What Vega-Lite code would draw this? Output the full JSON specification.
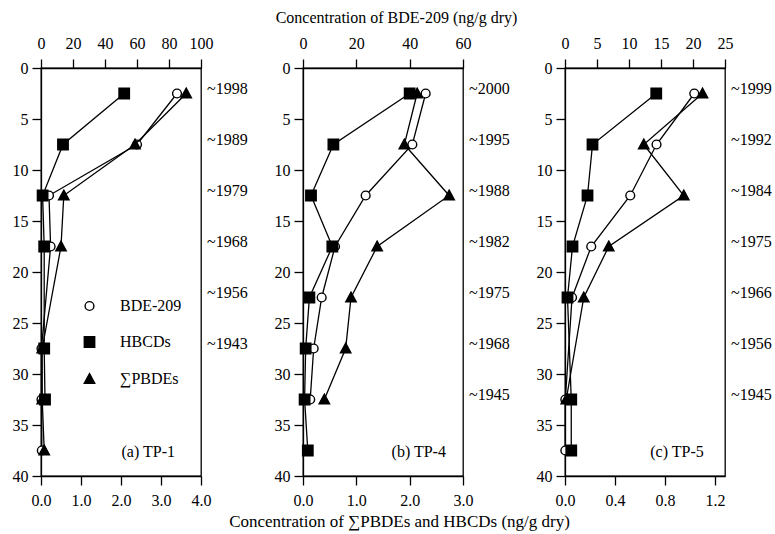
{
  "$schema": "https://vega.github.io/schema/vega-lite/v6.json",
  "background": "white",
  "padding": {"left": 11, "top": 8, "right": 5, "bottom": 5},
  "datasets": {
    "conc": [
      {"panel": "a", "series": "BDE-209", "depth": 2.5, "value": 85},
      {"panel": "a", "series": "BDE-209", "depth": 7.5, "value": 60},
      {"panel": "a", "series": "BDE-209", "depth": 12.5, "value": 5},
      {"panel": "a", "series": "BDE-209", "depth": 17.5, "value": 6},
      {"panel": "a", "series": "BDE-209", "depth": 27.5, "value": 0.3},
      {"panel": "a", "series": "BDE-209", "depth": 32.5, "value": 0.3},
      {"panel": "a", "series": "BDE-209", "depth": 37.5, "value": 0.5},
      {"panel": "a", "series": "HBCDs", "depth": 2.5, "value": 2.08},
      {"panel": "a", "series": "HBCDs", "depth": 7.5, "value": 0.55},
      {"panel": "a", "series": "HBCDs", "depth": 12.5, "value": 0.04},
      {"panel": "a", "series": "HBCDs", "depth": 17.5, "value": 0.08},
      {"panel": "a", "series": "HBCDs", "depth": 27.5, "value": 0.08},
      {"panel": "a", "series": "HBCDs", "depth": 32.5, "value": 0.1},
      {"panel": "a", "series": "∑PBDEs", "depth": 2.5, "value": 3.63},
      {"panel": "a", "series": "∑PBDEs", "depth": 7.5, "value": 2.35},
      {"panel": "a", "series": "∑PBDEs", "depth": 12.5, "value": 0.57},
      {"panel": "a", "series": "∑PBDEs", "depth": 17.5, "value": 0.5},
      {"panel": "a", "series": "∑PBDEs", "depth": 27.5, "value": 0.03},
      {"panel": "a", "series": "∑PBDEs", "depth": 32.5, "value": 0.03},
      {"panel": "a", "series": "∑PBDEs", "depth": 37.5, "value": 0.08},
      {"panel": "b", "series": "BDE-209", "depth": 2.5, "value": 46},
      {"panel": "b", "series": "BDE-209", "depth": 7.5, "value": 41},
      {"panel": "b", "series": "BDE-209", "depth": 12.5, "value": 23.5},
      {"panel": "b", "series": "BDE-209", "depth": 17.5, "value": 12},
      {"panel": "b", "series": "BDE-209", "depth": 22.5, "value": 7},
      {"panel": "b", "series": "BDE-209", "depth": 27.5, "value": 4},
      {"panel": "b", "series": "BDE-209", "depth": 32.5, "value": 2.7},
      {"panel": "b", "series": "HBCDs", "depth": 2.5, "value": 2.0},
      {"panel": "b", "series": "HBCDs", "depth": 7.5, "value": 0.57},
      {"panel": "b", "series": "HBCDs", "depth": 12.5, "value": 0.15},
      {"panel": "b", "series": "HBCDs", "depth": 17.5, "value": 0.55},
      {"panel": "b", "series": "HBCDs", "depth": 22.5, "value": 0.12},
      {"panel": "b", "series": "HBCDs", "depth": 27.5, "value": 0.05},
      {"panel": "b", "series": "HBCDs", "depth": 32.5, "value": 0.03},
      {"panel": "b", "series": "HBCDs", "depth": 37.5, "value": 0.09},
      {"panel": "b", "series": "∑PBDEs", "depth": 2.5, "value": 2.14},
      {"panel": "b", "series": "∑PBDEs", "depth": 7.5, "value": 1.9},
      {"panel": "b", "series": "∑PBDEs", "depth": 12.5, "value": 2.74},
      {"panel": "b", "series": "∑PBDEs", "depth": 17.5, "value": 1.39},
      {"panel": "b", "series": "∑PBDEs", "depth": 22.5, "value": 0.9},
      {"panel": "b", "series": "∑PBDEs", "depth": 27.5, "value": 0.8},
      {"panel": "b", "series": "∑PBDEs", "depth": 32.5, "value": 0.4},
      {"panel": "c", "series": "BDE-209", "depth": 2.5, "value": 20.2},
      {"panel": "c", "series": "BDE-209", "depth": 7.5, "value": 14.3},
      {"panel": "c", "series": "BDE-209", "depth": 12.5, "value": 10.2},
      {"panel": "c", "series": "BDE-209", "depth": 17.5, "value": 4.1},
      {"panel": "c", "series": "BDE-209", "depth": 22.5, "value": 1.1},
      {"panel": "c", "series": "BDE-209", "depth": 32.5, "value": 0.05},
      {"panel": "c", "series": "BDE-209", "depth": 37.5, "value": 0.05},
      {"panel": "c", "series": "HBCDs", "depth": 2.5, "value": 0.73},
      {"panel": "c", "series": "HBCDs", "depth": 7.5, "value": 0.22},
      {"panel": "c", "series": "HBCDs", "depth": 12.5, "value": 0.18},
      {"panel": "c", "series": "HBCDs", "depth": 17.5, "value": 0.06},
      {"panel": "c", "series": "HBCDs", "depth": 22.5, "value": 0.02},
      {"panel": "c", "series": "HBCDs", "depth": 32.5, "value": 0.05},
      {"panel": "c", "series": "HBCDs", "depth": 37.5, "value": 0.05},
      {"panel": "c", "series": "∑PBDEs", "depth": 2.5, "value": 1.1},
      {"panel": "c", "series": "∑PBDEs", "depth": 7.5, "value": 0.63},
      {"panel": "c", "series": "∑PBDEs", "depth": 12.5, "value": 0.95},
      {"panel": "c", "series": "∑PBDEs", "depth": 17.5, "value": 0.35},
      {"panel": "c", "series": "∑PBDEs", "depth": 22.5, "value": 0.15},
      {"panel": "c", "series": "∑PBDEs", "depth": 32.5, "value": 0.01}
    ],
    "years": [
      {"panel": "a", "depth": 2.5, "label": "~1998"},
      {"panel": "a", "depth": 7.5, "label": "~1989"},
      {"panel": "a", "depth": 12.5, "label": "~1979"},
      {"panel": "a", "depth": 17.5, "label": "~1968"},
      {"panel": "a", "depth": 22.5, "label": "~1956"},
      {"panel": "a", "depth": 27.5, "label": "~1943"},
      {"panel": "b", "depth": 2.5, "label": "~2000"},
      {"panel": "b", "depth": 7.5, "label": "~1995"},
      {"panel": "b", "depth": 12.5, "label": "~1988"},
      {"panel": "b", "depth": 17.5, "label": "~1982"},
      {"panel": "b", "depth": 22.5, "label": "~1975"},
      {"panel": "b", "depth": 27.5, "label": "~1968"},
      {"panel": "b", "depth": 32.5, "label": "~1945"},
      {"panel": "c", "depth": 2.5, "label": "~1999"},
      {"panel": "c", "depth": 7.5, "label": "~1992"},
      {"panel": "c", "depth": 12.5, "label": "~1984"},
      {"panel": "c", "depth": 17.5, "label": "~1975"},
      {"panel": "c", "depth": 22.5, "label": "~1966"},
      {"panel": "c", "depth": 27.5, "label": "~1956"},
      {"panel": "c", "depth": 32.5, "label": "~1945"}
    ],
    "tags": [
      {"panel": "a", "label": "(a) TP-1"},
      {"panel": "b", "label": "(b) TP-4"},
      {"panel": "c", "label": "(c) TP-5"}
    ]
  },
  "hconcat": [
    {
      "width": 160, "height": 408,
      "resolve": {"scale": {"x": "independent"}},
      "layer": [
        {
          "data": {"name": "conc"},
          "transform": [{"filter": "datum.panel === 'a' && datum.series === 'BDE-209'"}],
          "mark": {"type": "line", "color": "black", "strokeWidth": 1.3},
          "encoding": {
            "x": {"field": "value", "type": "quantitative", "scale": {"domain": [0, 100], "nice": false, "zero": false}, "axis": {"orient": "top", "values": [0, 20, 40, 60, 80, 100], "title": null, "labelPadding": 8, "encode": {"labels": {"font": {"value": "Liberation Serif"}, "fontSize": {"value": 16}, "fill": {"value": "black"}}}}},
            "y": {"field": "depth", "type": "quantitative", "scale": {"domain": [0, 40], "reverse": true, "nice": false, "zero": false}, "axis": {"orient": "left", "values": [0, 5, 10, 15, 20, 25, 30, 35, 40], "title": null, "labelPadding": 4, "encode": {"labels": {"font": {"value": "Liberation Serif"}, "fontSize": {"value": 16}, "fill": {"value": "black"}}}}},
            "order": {"field": "depth", "type": "quantitative"}
          }
        },
        {
          "data": {"name": "conc"},
          "transform": [{"filter": "datum.panel === 'a' && datum.series === 'BDE-209'"}],
          "mark": {"type": "point", "stroke": "black", "strokeWidth": 1.4, "opacity": 1, "size": 64},
          "encoding": {
            "x": {"field": "value", "type": "quantitative", "scale": {"domain": [0, 100], "nice": false, "zero": false}, "axis": null},
            "y": {"field": "depth", "type": "quantitative", "scale": {"domain": [0, 40], "reverse": true, "nice": false, "zero": false}},
            "shape": {"field": "series", "type": "nominal", "scale": {"domain": ["BDE-209", "HBCDs", "∑PBDEs"], "range": ["M-1.1,0A1.1,1.1,0,1,1,1.1,0A1.1,1.1,0,1,1,-1.1,0Z", "M-1.3,-1.3H1.3V1.3H-1.3Z", "M0,-1.35L1.3,1.05H-1.3Z"]},
              "legend": {"orient": "none", "legendX": 24.5, "legendY": 230, "title": null, "padding": 0, "symbolSize": 64, "symbolStrokeWidth": 1.4, "symbolOffset": 16, "labelOffset": 22.5, "rowPadding": 20, "labelFontSize": 16, "labelFont": "Liberation Serif", "labelColor": "black",
                "encode": {"symbols": {
                  "fill": {"value": {"expr": "datum.value === 'BDE-209' ? 'white' : 'black'"}},
                  "stroke": {"value": "black"},
                  "opacity": {"value": 1}
                }}}},
            "fill": {"field": "series", "type": "nominal", "scale": {"domain": ["BDE-209", "HBCDs", "∑PBDEs"], "range": ["white", "black", "black"]}, "legend": null}
          }
        },
        {
          "data": {"name": "conc"},
          "transform": [{"filter": "datum.panel === 'a' && datum.series !== 'BDE-209'"}],
          "mark": {"type": "line", "color": "black", "strokeWidth": 1.3},
          "encoding": {
            "x": {"field": "value", "type": "quantitative", "scale": {"domain": [0, 4], "nice": false, "zero": false}, "axis": {"orient": "bottom", "values": [0, 1, 2, 3, 4], "format": ".1f", "title": null, "labelPadding": 7, "encode": {"labels": {"font": {"value": "Liberation Serif"}, "fontSize": {"value": 16}, "fill": {"value": "black"}}}}},
            "y": {"field": "depth", "type": "quantitative", "scale": {"domain": [0, 40], "reverse": true, "nice": false, "zero": false}},
            "detail": {"field": "series", "type": "nominal"},
            "order": {"field": "depth", "type": "quantitative"}
          }
        },
        {
          "data": {"name": "conc"},
          "transform": [{"filter": "datum.panel === 'a' && datum.series !== 'BDE-209'"}],
          "mark": {"type": "point", "stroke": "black", "strokeWidth": 1.4, "opacity": 1, "size": 64},
          "encoding": {
            "x": {"field": "value", "type": "quantitative", "scale": {"domain": [0, 4], "nice": false, "zero": false}, "axis": null},
            "y": {"field": "depth", "type": "quantitative", "scale": {"domain": [0, 40], "reverse": true, "nice": false, "zero": false}},
            "shape": {"field": "series", "type": "nominal", "scale": {"domain": ["BDE-209", "HBCDs", "∑PBDEs"], "range": ["M-1.1,0A1.1,1.1,0,1,1,1.1,0A1.1,1.1,0,1,1,-1.1,0Z", "M-1.3,-1.3H1.3V1.3H-1.3Z", "M0,-1.35L1.3,1.05H-1.3Z"]},
              "legend": {"orient": "none", "legendX": 24.5, "legendY": 230, "title": null, "padding": 0, "symbolSize": 64, "symbolStrokeWidth": 1.4, "symbolOffset": 16, "labelOffset": 22.5, "rowPadding": 20, "labelFontSize": 16, "labelFont": "Liberation Serif", "labelColor": "black",
                "encode": {"symbols": {
                  "fill": {"value": {"expr": "datum.value === 'BDE-209' ? 'white' : 'black'"}},
                  "stroke": {"value": "black"},
                  "opacity": {"value": 1}
                }}}},
            "fill": {"field": "series", "type": "nominal", "scale": {"domain": ["BDE-209", "HBCDs", "∑PBDEs"], "range": ["white", "black", "black"]}, "legend": null}
          }
        },
        {
          "data": {"name": "years"},
          "transform": [{"filter": "datum.panel === 'a'"}],
          "mark": {"type": "text", "align": "left", "baseline": "middle", "dx": 6, "dy": -5, "font": "Liberation Serif", "fontSize": 16, "color": "black"},
          "encoding": {
            "x": {"datum": 4, "type": "quantitative", "scale": {"domain": [0, 4], "nice": false, "zero": false}, "axis": null},
            "y": {"field": "depth", "type": "quantitative", "scale": {"domain": [0, 40], "reverse": true, "nice": false, "zero": false}},
            "text": {"field": "label", "type": "nominal"}
          }
        },
        {
          "data": {"name": "tags"},
          "transform": [{"filter": "datum.panel === 'a'"}],
          "mark": {"type": "text", "align": "right", "baseline": "middle", "font": "Liberation Serif", "fontSize": 16, "color": "black"},
          "encoding": {
            "x": {"datum": 3.35, "type": "quantitative", "scale": {"domain": [0, 4], "nice": false, "zero": false}, "axis": null},
            "y": {"datum": 37.6, "type": "quantitative", "scale": {"domain": [0, 40], "reverse": true, "nice": false, "zero": false}},
            "text": {"field": "label", "type": "nominal"}
          }
        }
      ]
    },
    {
      "width": 160, "height": 408,
      "resolve": {"scale": {"x": "independent"}},
      "layer": [
        {
          "data": {"name": "conc"},
          "transform": [{"filter": "datum.panel === 'b' && datum.series === 'BDE-209'"}],
          "mark": {"type": "line", "color": "black", "strokeWidth": 1.3},
          "encoding": {
            "x": {"field": "value", "type": "quantitative", "scale": {"domain": [0, 60], "nice": false, "zero": false}, "axis": {"orient": "top", "values": [0, 20, 40, 60], "title": "Concentration of BDE-209 (ng/g dry)", "titlePadding": 10, "titleX": 93, "labelPadding": 8, "encode": {"labels": {"font": {"value": "Liberation Serif"}, "fontSize": {"value": 16}, "fill": {"value": "black"}}}}},
            "y": {"field": "depth", "type": "quantitative", "scale": {"domain": [0, 40], "reverse": true, "nice": false, "zero": false}, "axis": {"orient": "left", "values": [0, 5, 10, 15, 20, 25, 30, 35, 40], "title": null, "labelPadding": 4, "encode": {"labels": {"font": {"value": "Liberation Serif"}, "fontSize": {"value": 16}, "fill": {"value": "black"}}}}},
            "order": {"field": "depth", "type": "quantitative"}
          }
        },
        {
          "data": {"name": "conc"},
          "transform": [{"filter": "datum.panel === 'b' && datum.series === 'BDE-209'"}],
          "mark": {"type": "point", "stroke": "black", "strokeWidth": 1.4, "opacity": 1, "size": 64},
          "encoding": {
            "x": {"field": "value", "type": "quantitative", "scale": {"domain": [0, 60], "nice": false, "zero": false}, "axis": null},
            "y": {"field": "depth", "type": "quantitative", "scale": {"domain": [0, 40], "reverse": true, "nice": false, "zero": false}},
            "shape": {"field": "series", "type": "nominal", "scale": {"domain": ["BDE-209", "HBCDs", "∑PBDEs"], "range": ["M-1.1,0A1.1,1.1,0,1,1,1.1,0A1.1,1.1,0,1,1,-1.1,0Z", "M-1.3,-1.3H1.3V1.3H-1.3Z", "M0,-1.35L1.3,1.05H-1.3Z"]}, "legend": null},
            "fill": {"field": "series", "type": "nominal", "scale": {"domain": ["BDE-209", "HBCDs", "∑PBDEs"], "range": ["white", "black", "black"]}, "legend": null}
          }
        },
        {
          "data": {"name": "conc"},
          "transform": [{"filter": "datum.panel === 'b' && datum.series !== 'BDE-209'"}],
          "mark": {"type": "line", "color": "black", "strokeWidth": 1.3},
          "encoding": {
            "x": {"field": "value", "type": "quantitative", "scale": {"domain": [0, 3], "nice": false, "zero": false}, "axis": {"orient": "bottom", "values": [0, 1, 2, 3], "format": ".1f", "title": "Concentration of ∑PBDEs and HBCDs (ng/g dry)", "titlePadding": 5, "titleX": 96, "titleFontSize": 17, "labelPadding": 7, "encode": {"labels": {"font": {"value": "Liberation Serif"}, "fontSize": {"value": 16}, "fill": {"value": "black"}}}}},
            "y": {"field": "depth", "type": "quantitative", "scale": {"domain": [0, 40], "reverse": true, "nice": false, "zero": false}},
            "detail": {"field": "series", "type": "nominal"},
            "order": {"field": "depth", "type": "quantitative"}
          }
        },
        {
          "data": {"name": "conc"},
          "transform": [{"filter": "datum.panel === 'b' && datum.series !== 'BDE-209'"}],
          "mark": {"type": "point", "stroke": "black", "strokeWidth": 1.4, "opacity": 1, "size": 64},
          "encoding": {
            "x": {"field": "value", "type": "quantitative", "scale": {"domain": [0, 3], "nice": false, "zero": false}, "axis": null},
            "y": {"field": "depth", "type": "quantitative", "scale": {"domain": [0, 40], "reverse": true, "nice": false, "zero": false}},
            "shape": {"field": "series", "type": "nominal", "scale": {"domain": ["BDE-209", "HBCDs", "∑PBDEs"], "range": ["M-1.1,0A1.1,1.1,0,1,1,1.1,0A1.1,1.1,0,1,1,-1.1,0Z", "M-1.3,-1.3H1.3V1.3H-1.3Z", "M0,-1.35L1.3,1.05H-1.3Z"]}, "legend": null},
            "fill": {"field": "series", "type": "nominal", "scale": {"domain": ["BDE-209", "HBCDs", "∑PBDEs"], "range": ["white", "black", "black"]}, "legend": null}
          }
        },
        {
          "data": {"name": "years"},
          "transform": [{"filter": "datum.panel === 'b'"}],
          "mark": {"type": "text", "align": "left", "baseline": "middle", "dx": 6, "dy": -5, "font": "Liberation Serif", "fontSize": 16, "color": "black"},
          "encoding": {
            "x": {"datum": 3, "type": "quantitative", "scale": {"domain": [0, 3], "nice": false, "zero": false}, "axis": null},
            "y": {"field": "depth", "type": "quantitative", "scale": {"domain": [0, 40], "reverse": true, "nice": false, "zero": false}},
            "text": {"field": "label", "type": "nominal"}
          }
        },
        {
          "data": {"name": "tags"},
          "transform": [{"filter": "datum.panel === 'b'"}],
          "mark": {"type": "text", "align": "right", "baseline": "middle", "font": "Liberation Serif", "fontSize": 16, "color": "black"},
          "encoding": {
            "x": {"datum": 2.68, "type": "quantitative", "scale": {"domain": [0, 3], "nice": false, "zero": false}, "axis": null},
            "y": {"datum": 37.6, "type": "quantitative", "scale": {"domain": [0, 40], "reverse": true, "nice": false, "zero": false}},
            "text": {"field": "label", "type": "nominal"}
          }
        }
      ]
    },
    {
      "width": 160, "height": 408,
      "resolve": {"scale": {"x": "independent"}},
      "layer": [
        {
          "data": {"name": "conc"},
          "transform": [{"filter": "datum.panel === 'c' && datum.series === 'BDE-209'"}],
          "mark": {"type": "line", "color": "black", "strokeWidth": 1.3},
          "encoding": {
            "x": {"field": "value", "type": "quantitative", "scale": {"domain": [0, 25], "nice": false, "zero": false}, "axis": {"orient": "top", "values": [0, 5, 10, 15, 20, 25], "title": null, "labelPadding": 8, "encode": {"labels": {"font": {"value": "Liberation Serif"}, "fontSize": {"value": 16}, "fill": {"value": "black"}}}}},
            "y": {"field": "depth", "type": "quantitative", "scale": {"domain": [0, 40], "reverse": true, "nice": false, "zero": false}, "axis": {"orient": "left", "values": [0, 5, 10, 15, 20, 25, 30, 35, 40], "title": null, "labelPadding": 4, "encode": {"labels": {"font": {"value": "Liberation Serif"}, "fontSize": {"value": 16}, "fill": {"value": "black"}}}}},
            "order": {"field": "depth", "type": "quantitative"}
          }
        },
        {
          "data": {"name": "conc"},
          "transform": [{"filter": "datum.panel === 'c' && datum.series === 'BDE-209'"}],
          "mark": {"type": "point", "stroke": "black", "strokeWidth": 1.4, "opacity": 1, "size": 64},
          "encoding": {
            "x": {"field": "value", "type": "quantitative", "scale": {"domain": [0, 25], "nice": false, "zero": false}, "axis": null},
            "y": {"field": "depth", "type": "quantitative", "scale": {"domain": [0, 40], "reverse": true, "nice": false, "zero": false}},
            "shape": {"field": "series", "type": "nominal", "scale": {"domain": ["BDE-209", "HBCDs", "∑PBDEs"], "range": ["M-1.1,0A1.1,1.1,0,1,1,1.1,0A1.1,1.1,0,1,1,-1.1,0Z", "M-1.3,-1.3H1.3V1.3H-1.3Z", "M0,-1.35L1.3,1.05H-1.3Z"]}, "legend": null},
            "fill": {"field": "series", "type": "nominal", "scale": {"domain": ["BDE-209", "HBCDs", "∑PBDEs"], "range": ["white", "black", "black"]}, "legend": null}
          }
        },
        {
          "data": {"name": "conc"},
          "transform": [{"filter": "datum.panel === 'c' && datum.series !== 'BDE-209'"}],
          "mark": {"type": "line", "color": "black", "strokeWidth": 1.3},
          "encoding": {
            "x": {"field": "value", "type": "quantitative", "scale": {"domain": [0, 1.28], "nice": false, "zero": false}, "axis": {"orient": "bottom", "values": [0, 0.4, 0.8, 1.2], "format": ".1f", "title": null, "labelPadding": 7, "encode": {"labels": {"font": {"value": "Liberation Serif"}, "fontSize": {"value": 16}, "fill": {"value": "black"}}}}},
            "y": {"field": "depth", "type": "quantitative", "scale": {"domain": [0, 40], "reverse": true, "nice": false, "zero": false}},
            "detail": {"field": "series", "type": "nominal"},
            "order": {"field": "depth", "type": "quantitative"}
          }
        },
        {
          "data": {"name": "conc"},
          "transform": [{"filter": "datum.panel === 'c' && datum.series !== 'BDE-209'"}],
          "mark": {"type": "point", "stroke": "black", "strokeWidth": 1.4, "opacity": 1, "size": 64},
          "encoding": {
            "x": {"field": "value", "type": "quantitative", "scale": {"domain": [0, 1.28], "nice": false, "zero": false}, "axis": null},
            "y": {"field": "depth", "type": "quantitative", "scale": {"domain": [0, 40], "reverse": true, "nice": false, "zero": false}},
            "shape": {"field": "series", "type": "nominal", "scale": {"domain": ["BDE-209", "HBCDs", "∑PBDEs"], "range": ["M-1.1,0A1.1,1.1,0,1,1,1.1,0A1.1,1.1,0,1,1,-1.1,0Z", "M-1.3,-1.3H1.3V1.3H-1.3Z", "M0,-1.35L1.3,1.05H-1.3Z"]}, "legend": null},
            "fill": {"field": "series", "type": "nominal", "scale": {"domain": ["BDE-209", "HBCDs", "∑PBDEs"], "range": ["white", "black", "black"]}, "legend": null}
          }
        },
        {
          "data": {"name": "years"},
          "transform": [{"filter": "datum.panel === 'c'"}],
          "mark": {"type": "text", "align": "left", "baseline": "middle", "dx": 6, "dy": -5, "font": "Liberation Serif", "fontSize": 16, "color": "black"},
          "encoding": {
            "x": {"datum": 1.28, "type": "quantitative", "scale": {"domain": [0, 1.28], "nice": false, "zero": false}, "axis": null},
            "y": {"field": "depth", "type": "quantitative", "scale": {"domain": [0, 40], "reverse": true, "nice": false, "zero": false}},
            "text": {"field": "label", "type": "nominal"}
          }
        },
        {
          "data": {"name": "tags"},
          "transform": [{"filter": "datum.panel === 'c'"}],
          "mark": {"type": "text", "align": "right", "baseline": "middle", "font": "Liberation Serif", "fontSize": 16, "color": "black"},
          "encoding": {
            "x": {"datum": 1.11, "type": "quantitative", "scale": {"domain": [0, 1.28], "nice": false, "zero": false}, "axis": null},
            "y": {"datum": 37.6, "type": "quantitative", "scale": {"domain": [0, 40], "reverse": true, "nice": false, "zero": false}},
            "text": {"field": "label", "type": "nominal"}
          }
        }
      ]
    }
  ],
  "spacing": 102,
  "bounds": "flush",
  "resolve": {"legend": {"shape": "independent", "fill": "independent"}},
  "config": {
    "view": {"stroke": "black", "strokeWidth": 1.3},
    "axis": {"domainColor": "black", "domainWidth": 1.3, "tickColor": "black", "tickWidth": 1.3, "tickSize": 9, "labelColor": "black", "labelFont": "Liberation Serif", "labelFontSize": 16, "labelFlush": false, "labelOverlap": false, "titleFont": "Liberation Serif", "titleFontSize": 16, "titleFontWeight": "normal", "titleColor": "black", "grid": false}
  }
}
